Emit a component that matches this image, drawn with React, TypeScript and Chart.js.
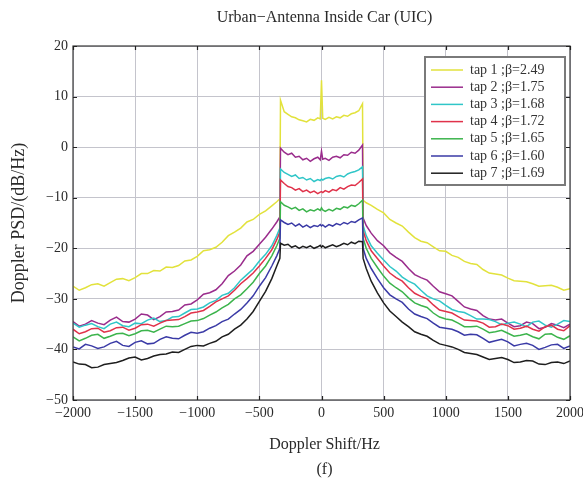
import React, { useEffect, useRef } from "react";
import { Chart, registerables } from "chart.js";

Chart.register(...registerables);

const chartTitle = "Urban−Antenna Inside Car (UIC)";
const xTitle = "Doppler Shift/Hz";
const yTitle = "Doppler PSD/(dB/Hz)";
const caption = "(f)";

const xTicks = [-2000, -1500, -1000, -500, 0, 500, 1000, 1500, 2000];
const yTicks = [-50, -40, -30, -20, -10, 0, 10, 20];

// Doppler frequency (Hz)
const freq = [
  -2000, -1950, -1900, -1850, -1800, -1750, -1700, -1650, -1600, -1550, -1500, -1450, -1400, -1350, -1300, -1250,
  -1200, -1150, -1100, -1050, -1000, -950, -900, -850, -800, -750, -700, -650, -600, -550, -500,
  -450, -400, -360, -335,
  -330, -300, -270, -240, -210, -180, -150, -120, -90, -60, -30, -10, 0, 10, 30, 60, 90, 120, 150, 180, 210, 240, 270, 300, 330,
  335, 360, 400, 450,
  500, 550, 600, 650, 700, 750, 800, 850, 900, 950, 1000, 1050, 1100, 1150, 1200, 1250,
  1300, 1350, 1400, 1450, 1500, 1550, 1600, 1650, 1700, 1750, 1800, 1850, 1900, 1950, 2000,
];

const tap1 = [
  -27.5, -28.3, -27.8, -27.2, -27.0, -27.5, -26.8, -26.1, -26.0, -26.4, -25.8, -25.0, -25.0, -24.4, -24.5, -23.7,
  -23.8, -23.4, -22.5, -22.3, -21.6, -20.5, -20.3, -19.8, -18.8, -17.5, -16.8, -16.0, -14.8, -14.3, -13.3,
  -12.6, -11.6, -10.8, -10.2,
  9.3, 7.0, 6.5, 6.0, 5.8, 5.4, 5.2, 5.0, 5.5, 5.3, 5.8, 5.6, 13.2, 5.7, 5.5, 5.9, 5.6, 6.0, 5.8, 6.3, 6.1, 6.6, 6.8, 7.2, 8.6,
  -10.5, -11.0, -11.5, -12.3,
  -13.0, -14.3, -15.0, -15.6, -16.8, -17.9, -18.6, -18.9, -19.7, -20.5, -20.6, -21.4, -21.8, -22.6, -23.0, -23.2,
  -24.2, -24.9, -25.1, -25.3, -25.9, -26.4, -26.5, -26.6, -27.0, -27.5, -27.4, -27.3, -27.7, -28.3, -28.0,
];
const tap2 = [
  -34.5, -35.4, -35.0, -34.3, -34.8, -35.1, -34.2, -33.6, -34.5, -34.6, -34.0, -33.0, -33.2, -34.1, -33.5, -32.6,
  -32.5, -32.2, -31.2, -31.0, -30.2, -29.1, -28.8, -28.2, -27.0, -25.4, -24.5, -23.3, -21.5, -20.6, -19.2,
  -17.8, -16.2, -14.8, -13.8,
  -0.2, -1.0, -1.5, -1.2, -2.0, -1.8, -2.5, -2.2, -2.8, -2.3, -2.0, -2.5, -0.8, -2.4, -2.2, -2.6, -2.0, -1.8, -2.1, -1.5, -1.6, -1.0, -1.2, -0.6, 0.4,
  -14.0, -15.5, -17.0, -18.5,
  -19.5, -20.9, -21.8, -22.6, -24.0, -25.2, -25.8, -26.3, -27.5, -28.6, -29.0, -29.4, -30.5, -31.6, -32.0, -32.3,
  -33.3, -34.0, -34.2, -34.0, -34.8, -35.5, -35.3, -34.6, -34.9, -35.9, -35.6, -34.9, -35.2, -35.7, -35.0,
];
const tap3 = [
  -34.8, -35.6, -35.2, -34.9, -35.5, -35.9, -35.0, -34.6, -35.3, -35.5, -34.8, -34.9, -34.2, -33.8, -34.5, -34.3,
  -33.6, -33.5, -32.8, -32.1, -32.0, -31.6, -30.8, -30.3, -29.3, -28.9, -27.8, -26.3, -25.2, -24.1, -22.5,
  -21.2, -19.5, -17.5, -16.0,
  -4.3, -5.0, -5.4, -5.8, -5.5, -6.2, -6.0, -6.5, -6.2, -6.8, -6.4, -6.6, -6.3, -6.5, -6.2, -6.0, -6.3, -5.8, -5.6, -5.9, -5.3, -5.0, -4.8, -4.5, -3.9,
  -15.5, -17.5, -19.5, -21.0,
  -22.3, -23.6, -24.5, -25.7, -26.5, -27.1, -28.3, -29.4, -30.0, -30.4, -31.3, -32.1, -32.5, -32.7, -33.3, -34.0,
  -34.0, -34.1, -34.5, -35.1, -34.8, -34.6, -35.0, -35.5, -34.6, -34.4, -35.2, -35.6, -35.0, -34.3, -34.5,
];
const tap4 = [
  -36.0, -36.9, -36.5, -35.9, -35.8, -36.6, -36.3, -35.7, -35.6, -36.2, -35.8, -35.1, -35.0, -35.4, -34.8, -34.3,
  -34.2, -34.1, -33.5, -32.8, -32.6, -32.3, -31.5, -30.6, -30.0, -29.4, -28.3, -27.0, -26.0, -24.9, -23.5,
  -22.0, -20.3, -18.3, -16.8,
  -6.5, -7.2, -7.8, -8.0, -8.5, -8.2, -8.8, -8.5, -9.0, -8.7, -9.2, -8.9, -8.8, -9.0, -8.6, -8.9, -8.4, -8.6, -8.0, -8.3, -7.8, -7.5, -7.6, -7.0, -6.3,
  -16.5, -18.5, -20.5, -22.0,
  -23.5, -24.9, -25.8, -26.5, -27.8, -28.9, -29.5, -30.0, -31.2, -32.2, -32.5, -32.8, -33.5, -34.2, -34.3, -34.4,
  -34.8, -35.6, -35.5, -35.0, -35.3, -36.0, -35.8, -35.4, -36.0, -36.4, -35.5, -35.2, -36.0, -36.3, -35.3,
];
const tap5 = [
  -37.5, -38.3, -37.8, -37.2, -37.0, -37.8, -37.4, -36.9, -36.8, -37.3, -36.9, -36.3, -36.2, -36.6, -36.0, -35.4,
  -35.5, -35.4, -34.9, -34.4, -34.3, -33.9, -33.2, -32.6, -31.8, -31.1, -30.0, -29.2, -28.0, -26.7, -25.0,
  -23.5, -21.5, -19.5, -18.0,
  -10.8, -11.5, -11.8, -12.2, -11.9, -12.5, -12.2, -12.8, -12.4, -12.6, -12.2, -12.5, -12.0, -12.4, -12.7, -12.3, -12.6, -12.1, -12.3, -11.8, -12.0, -11.5, -11.7, -11.2, -10.5,
  -18.0, -20.0, -22.0, -23.8,
  -25.5, -26.9, -27.8, -28.6, -29.8, -30.8, -31.3, -31.7, -32.8, -33.6, -34.0, -34.2, -34.8, -35.5, -35.5, -35.4,
  -36.0, -36.7, -36.5, -36.2, -36.8, -37.4, -37.2, -36.9, -37.5, -37.9, -37.0, -36.9, -37.6, -38.0, -37.3,
];
const tap6 = [
  -39.5, -39.9, -39.0, -39.3, -39.8, -39.5, -38.8, -38.4, -39.2, -39.4, -38.6, -38.3, -38.9, -38.8, -38.0, -37.5,
  -37.8, -37.9, -37.2, -36.6, -36.8, -36.5, -35.8, -35.3, -34.5, -34.0, -33.0, -32.1, -30.8, -29.4, -27.5,
  -25.8, -23.5, -21.5, -20.0,
  -14.4, -14.9, -15.3, -15.0, -15.6, -15.2, -15.8, -15.4, -15.9, -15.5, -15.7, -15.3, -15.6, -15.4, -15.8, -15.3, -15.6, -15.1, -15.4, -14.9, -15.2, -14.7, -14.9, -14.4, -14.0,
  -20.0, -22.0, -24.0, -26.0,
  -27.8, -29.2, -30.0, -30.7, -32.0, -33.0, -33.5, -33.9, -34.8, -35.6, -35.8, -36.0, -36.5, -37.2, -37.0, -37.1,
  -37.8, -38.6, -38.3, -38.0, -38.5, -39.3, -39.0, -38.8, -39.2, -40.0, -39.6, -39.1, -39.0, -39.8, -39.3,
];
const tap7 = [
  -42.5, -42.9, -43.0, -43.6, -43.5, -43.0, -42.8, -42.6, -42.2, -41.7, -41.5, -42.1, -41.8, -41.3, -41.0, -40.9,
  -40.5, -40.6, -40.0, -39.4, -39.2, -39.3, -38.8, -38.4, -37.5, -37.0, -36.0, -35.2, -34.0, -32.5, -30.5,
  -28.5, -26.0, -23.5, -22.0,
  -19.0, -19.4, -19.2, -19.8, -19.5, -20.0, -19.6, -19.9, -19.5, -20.0, -19.7, -19.4, -19.8, -19.5, -19.9, -19.6, -19.3, -19.7, -19.4, -19.0, -19.3, -18.8, -19.1, -18.6, -18.7,
  -22.0, -24.0, -26.5, -28.8,
  -30.8, -32.4, -33.5, -34.6, -35.5, -36.5, -37.0, -37.4, -38.2, -38.9, -39.2, -39.5, -40.0, -40.6, -40.8, -41.0,
  -41.5, -42.0, -41.8, -41.6, -42.0, -42.6, -42.5, -42.2, -42.3, -42.9, -43.0, -42.6, -42.5, -42.8, -42.3,
];

const seriesLabels = [
  "tap 1 ;β=2.49",
  "tap 2 ;β=1.75",
  "tap 3 ;β=1.68",
  "tap 4 ;β=1.72",
  "tap 5 ;β=1.65",
  "tap 6 ;β=1.60",
  "tap 7 ;β=1.69",
];
const seriesValues = [tap1, tap2, tap3, tap4, tap5, tap6, tap7];
const seriesColors = ["#e2e23c", "#9a2c8c", "#30c6c8", "#e0324a", "#3cb44c", "#3a3aa6", "#1e1e1e"];

const FONT = "'Liberation Serif', 'Times New Roman', 'DejaVu Serif', serif";

const minus = (v: number) => String(v).replace("-", "−");

const decoPlugin = {
  id: "deco",
  beforeDraw(chart: any) {
    const { ctx, width, height } = chart;
    ctx.save();
    ctx.fillStyle = "#ffffff";
    ctx.fillRect(0, 0, width, height);
    ctx.restore();
  },
  afterDraw(chart: any) {
    const { ctx, chartArea } = chart;
    const { left, right, top, bottom } = chartArea;
    const xs = chart.scales.x;
    const ys = chart.scales.y;
    ctx.save();
    // axes box
    ctx.strokeStyle = "#3a3a3a";
    ctx.lineWidth = 1.2;
    ctx.strokeRect(left, top, right - left, bottom - top);
    // inward tick marks
    ctx.strokeStyle = "#222";
    ctx.lineWidth = 1.2;
    ctx.beginPath();
    xTicks.forEach((v) => {
      const px = Math.round(xs.getPixelForValue(v)) + 0.5;
      ctx.moveTo(px, bottom);
      ctx.lineTo(px, bottom - 4);
      ctx.moveTo(px, top);
      ctx.lineTo(px, top + 4);
    });
    yTicks.forEach((v) => {
      const py = Math.round(ys.getPixelForValue(v)) + 0.5;
      ctx.moveTo(left, py);
      ctx.lineTo(left + 4, py);
      ctx.moveTo(right, py);
      ctx.lineTo(right - 4, py);
    });
    ctx.stroke();

    // legend
    const lw = 140;
    const lh = 128;
    const lx = right - lw - 5;
    const ly = top + 11;
    ctx.fillStyle = "#ffffff";
    ctx.fillRect(lx, ly, lw, lh);
    ctx.strokeStyle = "#7a7a7a";
    ctx.lineWidth = 2;
    ctx.strokeRect(lx, ly, lw, lh);
    ctx.font = `14px ${FONT}`;
    ctx.textBaseline = "middle";
    ctx.textAlign = "left";
    seriesLabels.forEach((lab, i) => {
      const ry = ly + 13 + i * 17.2;
      ctx.strokeStyle = seriesColors[i];
      ctx.lineWidth = 1.5;
      ctx.beginPath();
      ctx.moveTo(lx + 6, ry);
      ctx.lineTo(lx + 38, ry);
      ctx.stroke();
      ctx.fillStyle = "#333";
      ctx.fillText(lab, lx + 45, ry);
    });

    // titles
    ctx.fillStyle = "#2a2a2a";
    ctx.textAlign = "center";
    ctx.textBaseline = "middle";
    const cx = (left + right) / 2 + 3;
    ctx.font = `16px ${FONT}`;
    ctx.fillText(chartTitle, cx, 18);
    ctx.fillText(xTitle, cx, 445);
    ctx.fillText(caption, cx, 470);
    ctx.font = `18px ${FONT}`;
    ctx.translate(19, (top + bottom) / 2);
    ctx.rotate(-Math.PI / 2);
    ctx.fillText(yTitle, 0, 0);
    ctx.restore();
  },
};

export default function App() {
  const ref = useRef<HTMLCanvasElement | null>(null);
  useEffect(() => {
    if (!ref.current) return;
    Chart.defaults.font.family = FONT;
    const chart = new Chart(ref.current, {
      type: "line",
      data: {
        datasets: seriesValues.map((vals, i) => ({
          label: seriesLabels[i],
          data: freq.map((f, j) => ({ x: f, y: vals[j] })),
          borderColor: seriesColors[i],
          backgroundColor: seriesColors[i],
          borderWidth: 1.5,
          pointRadius: 0,
          tension: 0,
          fill: false,
          order: 6 - i,
        })),
      },
      options: {
        responsive: false,
        animation: false,
        devicePixelRatio: 1,
        layout: { padding: { top: 46, right: 13, left: 0, bottom: 0 } },
        plugins: {
          legend: { display: false },
          title: { display: false },
          tooltip: { enabled: false },
        },
        scales: {
          x: {
            type: "linear",
            min: -2000,
            max: 2000,
            afterBuildTicks: (s: any) => {
              s.ticks = xTicks.map((v) => ({ value: v }));
            },
            afterFit: (s: any) => {
              s.height = 82;
              s.paddingLeft = 0;
              s.paddingRight = 0;
            },
            grid: { color: "#c4c4cc", lineWidth: 1, drawTicks: false },
            border: { display: false },
            ticks: {
              padding: 5,
              color: "#2a2a2a",
              font: { size: 14, family: FONT },
              maxRotation: 0,
              autoSkip: false,
              callback: (v: any) => minus(v),
            },
          },
          y: {
            type: "linear",
            min: -50,
            max: 20,
            afterBuildTicks: (s: any) => {
              s.ticks = yTicks.map((v) => ({ value: v }));
            },
            afterFit: (s: any) => {
              s.width = 73;
              s.paddingTop = 0;
              s.paddingBottom = 0;
            },
            grid: { color: "#c4c4cc", lineWidth: 1, drawTicks: false },
            border: { display: false },
            ticks: {
              padding: 5,
              color: "#2a2a2a",
              font: { size: 14, family: FONT },
              autoSkip: false,
              callback: (v: any) => minus(v),
            },
          },
        },
      },
      plugins: [decoPlugin],
    });
    return () => chart.destroy();
  }, []);
  return (
    <div style={{ position: "absolute", left: 0, top: 0, width: 583, height: 482 }}>
      <canvas ref={ref} width={583} height={482} style={{ display: "block" }} />
    </div>
  );
}
